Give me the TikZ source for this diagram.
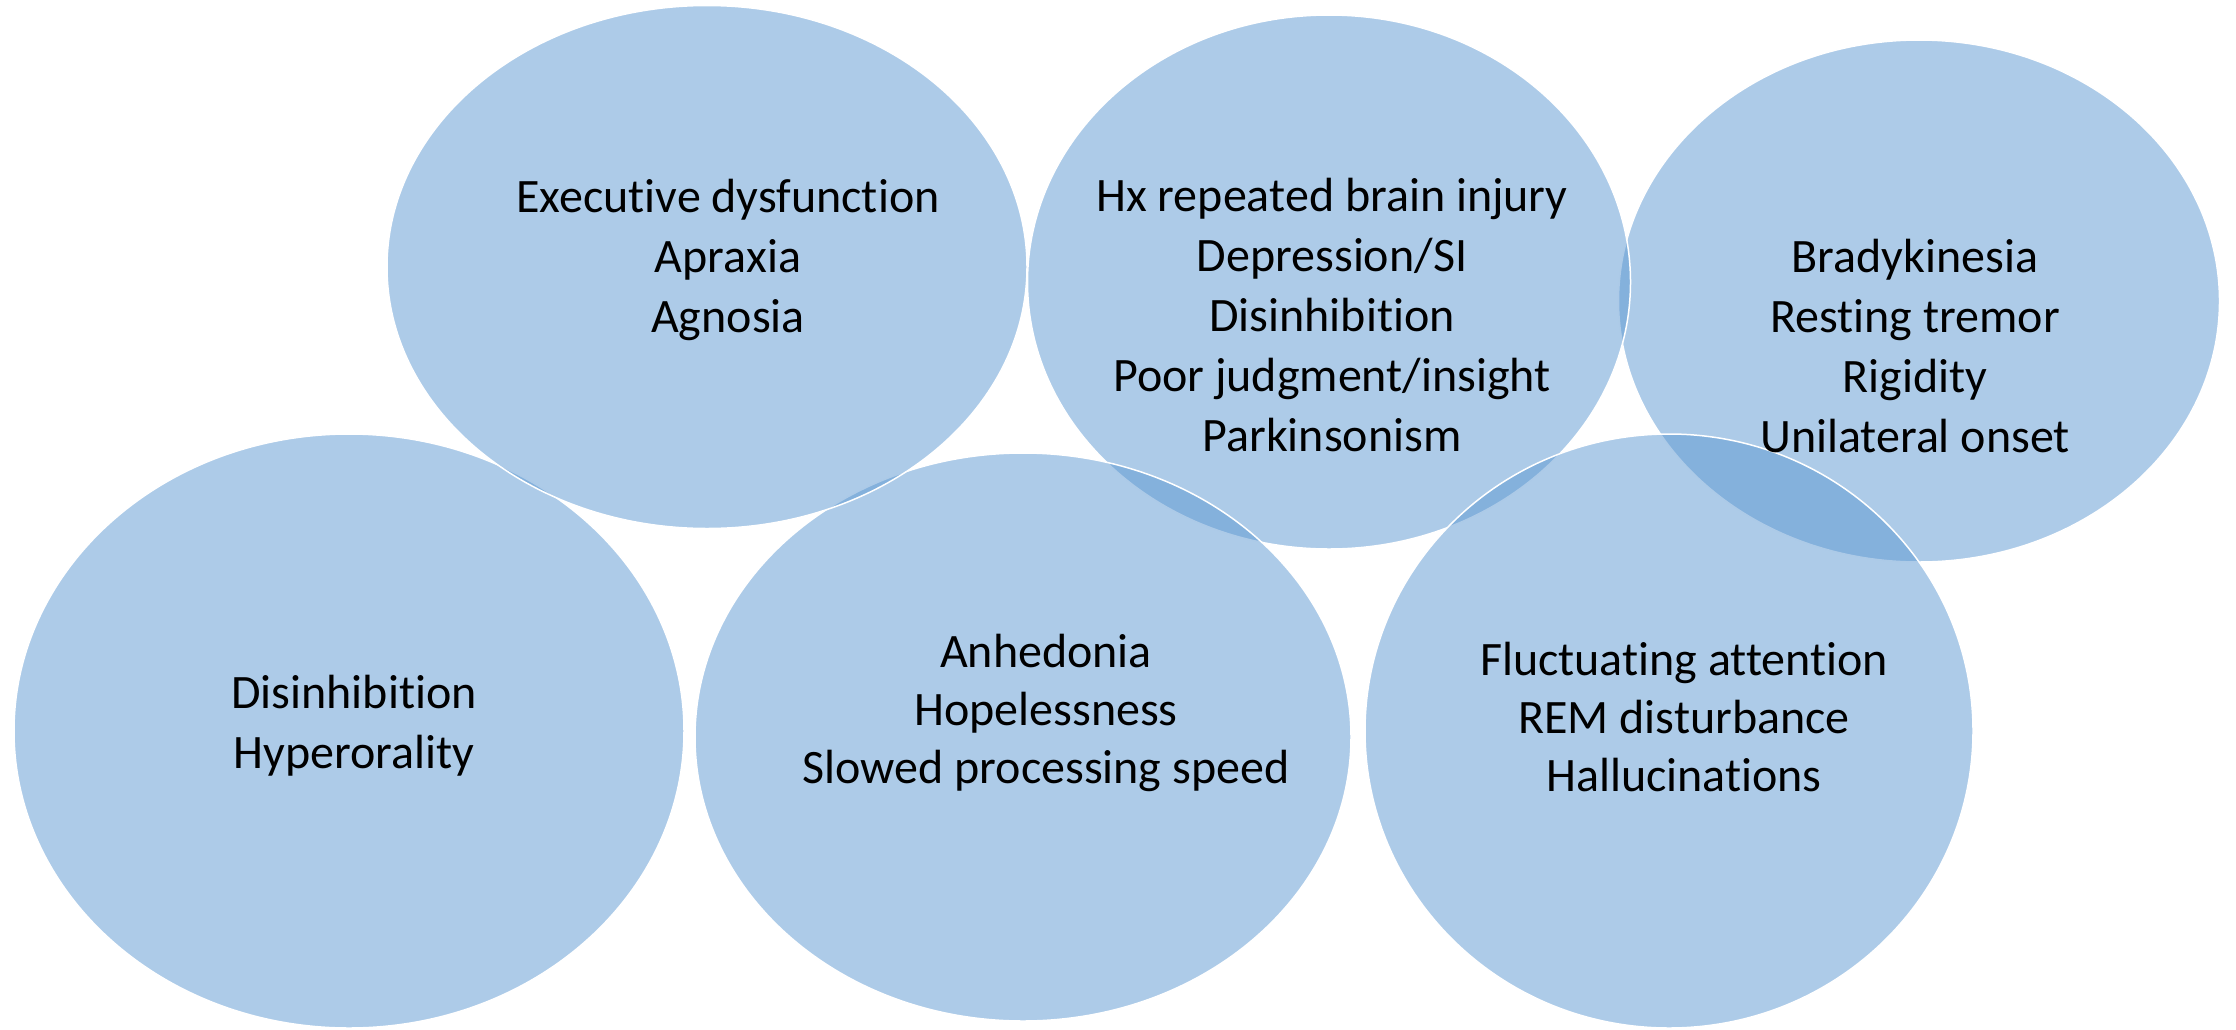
\documentclass[tikz,border=0pt]{standalone}
\usepackage{fontspec}
\setmainfont{Carlito}[Ligatures={NoCommon,NoContextual}]
\usetikzlibrary{shapes.geometric}
\definecolor{vfill}{RGB}{91,151,209}
\begin{document}
\begin{tikzpicture}[x=1pt,y=-1pt,
  venn/.style={ellipse, draw=white, line width=1.5pt, fill=vfill, fill opacity=0.5, inner sep=0pt},
  lbl/.style={align=center, font=\fontsize{48}{60}\selectfont, text=black, inner sep=0pt},
  lbltight/.style={lbl, font=\fontsize{48}{58}\selectfont}]
\useasboundingbox (0,0) rectangle (2236,1029);
\node[venn, minimum width=601pt, minimum height=522pt] (tr) at (1919,301) {};
\node[venn, minimum width=670pt, minimum height=594pt] (bl) at (349,731) {};
\node[venn, minimum width=603pt, minimum height=534pt] (tm) at (1329,282) {};
\node[venn, minimum width=656pt, minimum height=568pt] (bm) at (1023,737) {};
\node[venn, minimum width=608pt, minimum height=594pt] (br) at (1669,731) {};
\node[venn, minimum width=640pt, minimum height=523pt] (tl) at (707,267) {};
\node[lbl] (tltext) at (728,260) {Executive dysfunction\\Apraxia\\Agnosia};
\node[lbl] (tmtext) at (1332,315) {Hx repeated brain injury\\Depression/SI\\Disinhibition\\Poor judgment/insight\\Parkinsonism};
\node[lbl] (trtext) at (1915,346) {Bradykinesia\\Resting tremor\\Rigidity\\Unilateral onset};
\node[lbl] (bltext) at (354,726) {Disinhibition\\Hyperorality};
\node[lbltight] (bmtext) at (1046,713) {Anhedonia\\Hopelessness\\Slowed processing speed};
\node[lbltight] (brtext) at (1684,717) {Fluctuating attention\\REM disturbance\\Hallucinations};
\end{tikzpicture}
\end{document}
